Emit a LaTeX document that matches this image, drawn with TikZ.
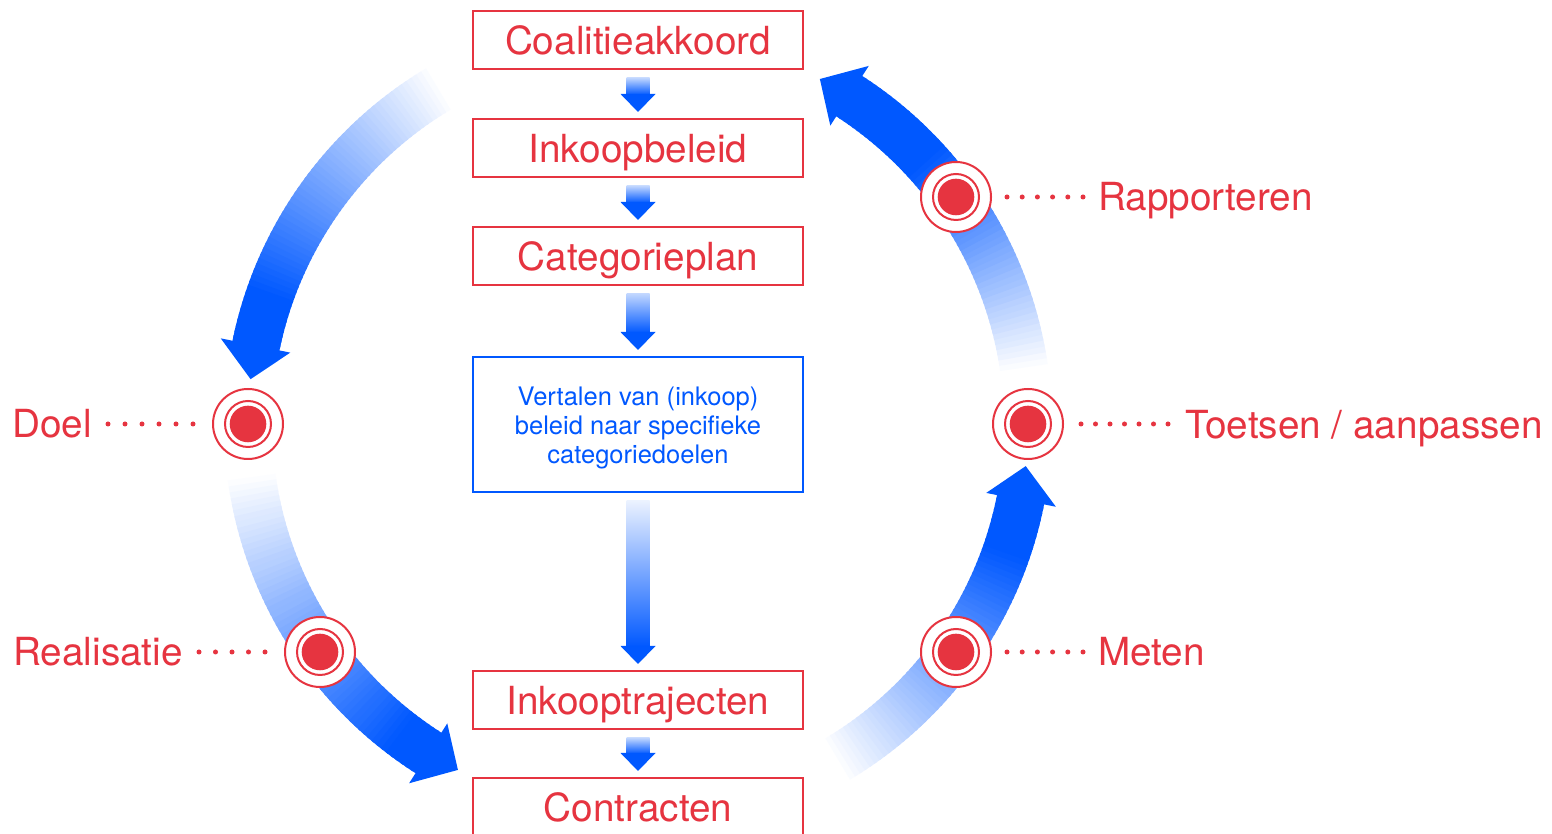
\documentclass[tikz,border=0pt]{standalone}
\usepackage{fontspec}
\setmainfont{TeX Gyre Heros}
\usetikzlibrary{calc}
\definecolor{redC}{RGB}{230,52,64}
\definecolor{blueC}{RGB}{0,88,255}
% curved band arrow on the circle: #1 start angle, #2 angle where full colour is reached, #3 tip angle
\newcommand\bandarrow[3]{%
  \pgfmathsetmacro\hb{#3-5}%
  \foreach \k in {0,...,59}{%
    \pgfmathsetmacro\ta{#1+(\hb-#1)*\k/60}%
    \pgfmathsetmacro\tb{#1+(\hb-#1)*(\k+1)/60+0.4}%
    \pgfmathtruncatemacro\pc{max(0,min(100,(\ta-#1)/(#2-#1)*100))}%
    \fill[blueC!\pc!white] (\ta:366) arc[start angle=\ta, end angle=\tb, radius=366]
      -- (\tb:414) arc[start angle=\tb, end angle=\ta, radius=414] -- cycle;
  }%
  \fill[blueC] (\hb:355) -- (\hb:426) -- (#3:390) -- cycle;
}
% straight connector between two boxes: #1 from, #2 to, #3 shading style
\newcommand\vconn[3]{%
  \shade[#3] ($(#1.south)+(-11.5,-8)$) rectangle ($(#2.north)+(11.5,23)$);
  \fill[blueC] ($(#2.north)+(-17.5,24)$) -- ($(#2.north)+(17.5,24)$) -- ($(#2.north)+(0,6)$) -- cycle;
}
\begin{document}
\begin{tikzpicture}[x=1pt,y=1pt,
  box/.style={draw=redC, line width=2pt, fill=white, minimum width=330pt, minimum height=58pt,
    inner sep=0pt, text=redC, font=\fontsize{38.7}{46}\selectfont, text height=29pt, text depth=0pt},
  bluebox/.style={draw=blueC, line width=2pt, fill=white, minimum width=330pt, minimum height=135pt,
    inner sep=0pt},
  bluetext/.style={inner sep=0pt, text=blueC, font=\fontsize{25.5}{29}\selectfont, align=center},
  target/.style={circle, draw=redC, line width=2pt, fill=white, minimum size=70pt, inner sep=0pt,
    path picture={\draw[redC, line width=2pt] (path picture bounding box.center) circle[radius=23];
                  \fill[redC] (path picture bounding box.center) circle[radius=18.3];}},
  lbl/.style={text=redC, font=\fontsize{38.7}{46}\selectfont, inner sep=0pt, anchor=base west},
  dotline/.style={redC, line width=5pt, line cap=round, dash pattern=on 0pt off #1},
  shortsh/.style={top color=blueC!25!white, bottom color=blueC},
  longsh/.style={top color=blueC!8!white, middle color=blueC!80!white, bottom color=blueC},
]
\useasboundingbox (0,0) rectangle (1552,834);
\clip (0,0) rectangle (1552,834);
\fill[white] (0,0) rectangle (1552,834);

% curved arrows
\begin{scope}[shift={(638,410)}]
  \bandarrow{120}{160}{173.4}
  \bandarrow{187}{232}{242.5}
  \bandarrow{300}{340}{353.8}
  \bandarrow{7.5}{42}{62.2}
\end{scope}

% boxes
\node[box] (coal) at (638,794) {Coalitieakkoord};
\node[box] (ink) at (638,686) {Inkoopbeleid};
\node[box] (cat) at (638,578) {Categorieplan};
\node[bluebox] (vert) at (638,409.5) {};
\node[bluetext] (verttxt) at ([yshift=-3pt]vert.center) {Vertalen van (inkoop)\\beleid naar specifieke\\categoriedoelen};
\node[box] (traj) at (638,134) {Inkooptrajecten};
\node[box] (contr) at (638,27) {Contracten};

\vconn{coal}{ink}{shortsh}
\vconn{ink}{cat}{shortsh}
\vconn{cat}{vert}{shortsh}
\vconn{vert}{traj}{longsh}
\vconn{traj}{contr}{shortsh}

% targets
\node[target] (doel) at (248,410) {};
\node[target] (real) at (320,182) {};
\node[target] (toets) at (1028,410) {};
\node[target] (meten) at (956,182) {};
\node[target] (rapp) at (956,637) {};

% labels
\node[lbl] (doellbl) at (12,396) {Doel};
\node[lbl] (reallbl) at (13,168) {Realisatie};
\node[lbl] (toetslbl) at (1185,395) {Toetsen / aanpassen};
\node[lbl] (metenlbl) at (1098,168) {Meten};
\node[lbl] (rapplbl) at (1098,623) {Rapporteren};

% dotted leaders
\draw[dotline=17pt, shorten <=19pt, shorten >=15pt] (doel.west) -- (doel.west -| doellbl.east);
\draw[dotline=16.5pt, shorten <=19pt, shorten >=15pt] (real.west) -- (real.west -| reallbl.east);
\draw[dotline=14.5pt, shorten <=17pt, shorten >=16pt] (toets.east) -- (toets.east -| toetslbl.west);
\draw[dotline=15.2pt, shorten <=15pt, shorten >=14pt] (meten.east) -- (meten.east -| metenlbl.west);
\draw[dotline=15.2pt, shorten <=15pt, shorten >=14pt] (rapp.east) -- (rapp.east -| rapplbl.west);
\end{tikzpicture}
\end{document}
